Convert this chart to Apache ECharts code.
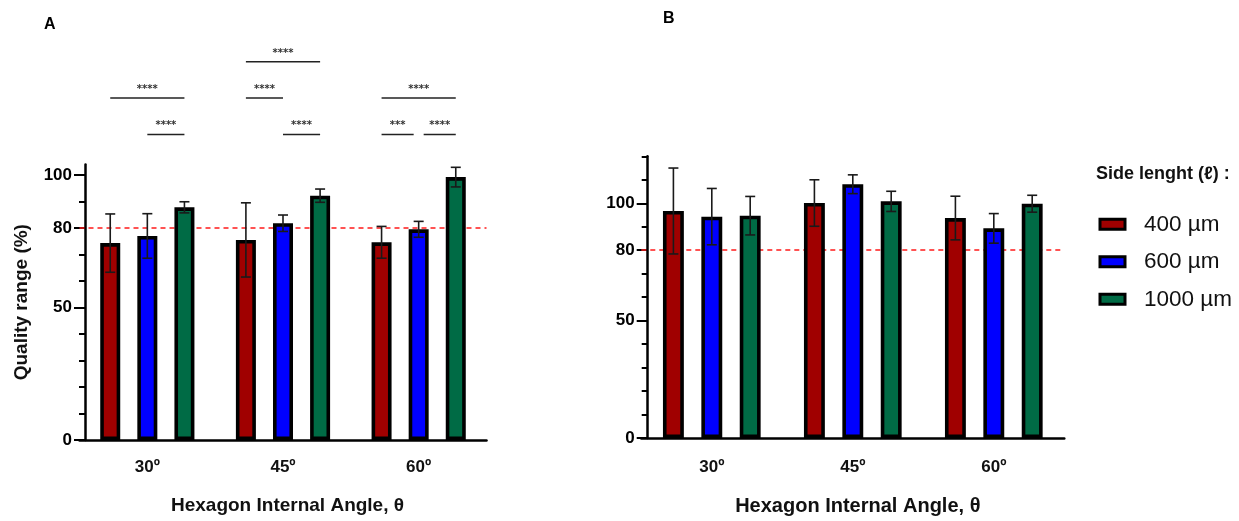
<!DOCTYPE html>
<html><head><meta charset="utf-8">
<script src="https://cdn.jsdelivr.net/npm/echarts@6/dist/echarts.min.js"></script>
<style>html,body{margin:0;padding:0;background:#fff}#c{width:1239px;height:521px}</style>
</head><body><div id="c"></div>
<script>
// ---------- data ----------
const categories = ['30º', '45º', '60º'];
const sizeNames = ['400 µm', '600 µm', '1000 µm'];
// Panel A (mean, SD)
const a400 = [74.3, 75.5, 74.6];
const a600 = [77.0, 81.8, 79.5];
const a1000 = [87.8, 92.2, 99.2];
const a400Sd = [11.0, 14.0, 6.0];
const a600Sd = [8.4, 3.1, 3.0];
const a1000Sd = [2.1, 2.5, 3.7];
// Panel B (mean, SD)
const b400 = [96.7, 100.1, 93.7];
const b600 = [94.3, 108.1, 89.3];
const b1000 = [94.7, 100.8, 99.8];
const b400Sd = [18.3, 9.9, 9.3];
const b600Sd = [12.0, 4.0, 6.3];
const b1000Sd = [8.2, 4.3, 3.6];
// axis ticks
const yLabelTicks = [0, 50, 80, 100];
const yMinorTicksA = [0, 10, 20, 30, 40, 50, 60, 70, 80, 90, 100];
const yMinorTicksB = [0, 10, 20, 30, 40, 50, 60, 70, 80, 90, 100, 110, 120];
const yMaxA = 104;
const yMaxB = 120;
const threshold = 80;
// significance brackets (panel A): group, from bar, to bar, stacking row, text
const sigGroup = [0, 0, 1, 1, 1, 2, 2, 2];
const sigFrom  = [0, 1, 0, 0, 1, 0, 0, 1];
const sigTo    = [2, 2, 2, 1, 2, 2, 1, 2];
const sigRow   = [2, 1, 3, 2, 1, 2, 1, 1];
const sigText  = ['****', '****', '****', '****', '****', '****', '***', '****'];

// ---------- styles ----------
const colors = ['#a00000', '#0000ff', '#006b45'];
const FONT = 'Liberation Sans';
const BORDER = 3.6;
const barA = { w: 20.0, gap: 0.855 };
const barB = { w: 20.9, gap: 0.837 };

const chart = echarts.init(document.getElementById('c'));

function errorData(means, sds) {
  const out = [];
  for (let s = 0; s < 3; s++) {
    for (let c = 0; c < 3; c++) out.push([c, s, means[s][c], sds[s][c]]);
  }
  return out;
}
function errorRender(step) {
  return function (params, api) {
    const cat = api.value(0), s = api.value(1), m = api.value(2), sd = api.value(3);
    const x = api.coord([cat, m])[0] + (s - 1) * step;
    const yt = api.coord([cat, m + sd])[1];
    const yb = api.coord([cat, m - sd])[1];
    const st = { stroke: '#1a1a1a', lineWidth: 1.6 };
    return {
      type: 'group',
      children: [
        { type: 'line', shape: { x1: x, y1: yt, x2: x, y2: yb }, style: st },
        { type: 'line', shape: { x1: x - 5, y1: yt, x2: x + 5, y2: yt }, style: st },
        { type: 'line', shape: { x1: x - 5, y1: yb, x2: x + 5, y2: yb }, style: st }
      ]
    };
  };
}
function sigRender(step) {
  return function (params, api) {
    const i = params.dataIndex;
    const g = sigGroup[i];
    const cx = api.coord([g, 0])[0];
    const top = api.coord([g, yMaxA])[1];
    let x1 = cx + (sigFrom[i] - 1) * step;
    let x2 = cx + (sigTo[i] - 1) * step;
    for (let j = 0; j < sigGroup.length; j++) {
      if (j === i || sigGroup[j] !== g || sigRow[j] !== sigRow[i]) continue;
      if (sigTo[j] === sigFrom[i]) x1 += 5;
      if (sigFrom[j] === sigTo[i]) x2 -= 5;
    }
    const y = top - 30 - (sigRow[i] - 1) * 36.3;
    return {
      type: 'group',
      children: [
        { type: 'line', shape: { x1: x1, y1: y, x2: x2, y2: y }, style: { stroke: '#222', lineWidth: 1.5 } },
        { type: 'text', x: (x1 + x2) / 2, y: y - 8.5,
          style: { text: sigText[i], fill: '#333', font: 'bold 10px DejaVu Sans', align: 'center', verticalAlign: 'middle' } }
      ]
    };
  };
}

function barSeries(name, data, xi, yi, idx, bw, gap, withLine) {
  const s = {
    name: name, type: 'bar', xAxisIndex: xi, yAxisIndex: yi, data: data,
    barWidth: bw, barGap: (gap * 100) + '%', z: 2,
    itemStyle: { color: colors[idx], borderColor: '#000', borderWidth: BORDER },
    emphasis: { disabled: true }
  };
  if (withLine) {
    s.markLine = {
      silent: true, symbol: 'none', z: 1, label: { show: false },
      lineStyle: { color: '#ff1a1a', type: [5, 4], width: 1.5 },
      data: [{ yAxis: threshold }]
    };
  }
  return s;
}

function yAxes(grid, max, minor, offset, name) {
  const main = {
    type: 'value', gridIndex: grid, position: 'left', min: 0, max: max, offset: offset,
    splitLine: { show: false },
    axisLine: { show: true, lineStyle: { color: '#000', width: 2.5 } },
    axisTick: { show: true, customValues: minor, length: 6, lineStyle: { color: '#000', width: 2 } },
    axisLabel: { customValues: yLabelTicks, margin: 13, color: '#000', fontFamily: FONT, fontWeight: 'bold', fontSize: 17 }
  };
  if (name) {
    main.name = name;
    main.nameLocation = 'middle';
    main.nameRotate = 90;
    main.nameGap = 54;
    main.nameTextStyle = { color: '#111', fontFamily: FONT, fontWeight: 'bold', fontSize: 19 };
  }
  const major = {
    type: 'value', gridIndex: grid, position: 'left', min: 0, max: max, offset: offset,
    splitLine: { show: false }, axisLine: { show: false },
    axisTick: { show: true, customValues: yLabelTicks, length: 11, lineStyle: { color: '#000', width: 2 } },
    axisLabel: { show: false }
  };
  return [main, major];
}

function xAxis(grid, margin, gap, fs, pad) {
  return {
    type: 'category', gridIndex: grid, data: categories,
    axisTick: { show: false },
    axisLine: { lineStyle: { color: '#000', width: 2.5 } },
    axisLabel: { margin: margin, color: '#111', fontFamily: FONT, fontWeight: 'bold', fontSize: 17 },
    name: 'Hexagon Internal Angle, θ', nameLocation: 'middle', nameGap: gap,
    nameTextStyle: { color: '#111', fontFamily: FONT, fontWeight: 'bold', fontSize: fs, padding: [0, 0, 0, pad] }
  };
}

const stepA = barA.w * (1 + barA.gap);
const stepB = barB.w * (1 + barB.gap);

const option = {
  animation: false,
  title: [
    { text: 'A', left: 44, top: 17, padding: 0, textStyle: { fontFamily: FONT, fontWeight: 'bold', fontSize: 16, color: '#000' } },
    { text: 'B', left: 663, top: 11, padding: 0, textStyle: { fontFamily: FONT, fontWeight: 'bold', fontSize: 16, color: '#000' } },
    { text: 'Side lenght (ℓ) :', left: 1096, top: 165, padding: 0, textStyle: { fontFamily: FONT, fontWeight: 'bold', fontSize: 18, color: '#111' } }
  ],
  legend: {
    data: sizeNames, orient: 'vertical', left: 1098.5, top: 212.3, padding: 0,
    itemWidth: 25, itemHeight: 10, itemGap: 13.5, icon: 'rect', selectedMode: false,
    itemStyle: { borderColor: '#000', borderWidth: 3 },
    textStyle: { fontFamily: FONT, fontSize: 22.5, color: '#111', lineHeight: 24, padding: [0, 0, 0, 14] }
  },
  grid: [
    { left: 79.5, width: 407, top: 164.4, height: 275.6 },
    { left: 641.3, width: 423, top: 156.3, height: 286 }
  ],
  xAxis: [xAxis(0, 19, 56.5, 19, 9), xAxis(1, 21, 58, 20, 10)],
  yAxis: [].concat(
    yAxes(0, yMaxA, yMinorTicksA, -5.5, 'Quality range (%)'),
    yAxes(1, yMaxB, yMinorTicksB, -6.4, null)
  ),
  series: [
    barSeries(sizeNames[0], a400, 0, 0, 0, barA.w, barA.gap, true),
    barSeries(sizeNames[1], a600, 0, 0, 1, barA.w, barA.gap, false),
    barSeries(sizeNames[2], a1000, 0, 0, 2, barA.w, barA.gap, false),
    barSeries(sizeNames[0], b400, 1, 2, 0, barB.w, barB.gap, true),
    barSeries(sizeNames[1], b600, 1, 2, 1, barB.w, barB.gap, false),
    barSeries(sizeNames[2], b1000, 1, 2, 2, barB.w, barB.gap, false),
    {
      name: 'errA', type: 'custom', xAxisIndex: 0, yAxisIndex: 0, z: 4, silent: true,
      data: errorData([a400, a600, a1000], [a400Sd, a600Sd, a1000Sd]),
      encode: { x: 0, y: 2 }, renderItem: errorRender(stepA)
    },
    {
      name: 'errB', type: 'custom', xAxisIndex: 1, yAxisIndex: 2, z: 4, silent: true,
      data: errorData([b400, b600, b1000], [b400Sd, b600Sd, b1000Sd]),
      encode: { x: 0, y: 2 }, renderItem: errorRender(stepB)
    },
    {
      name: 'sigA', type: 'custom', xAxisIndex: 0, yAxisIndex: 0, z: 4, silent: true, clip: false,
      data: sigGroup.map(function (g, i) { return [g, 1, i]; }),
      encode: { x: 0, y: 1 }, renderItem: sigRender(stepA)
    }
  ]
};
chart.setOption(option);
</script>
</body></html>
